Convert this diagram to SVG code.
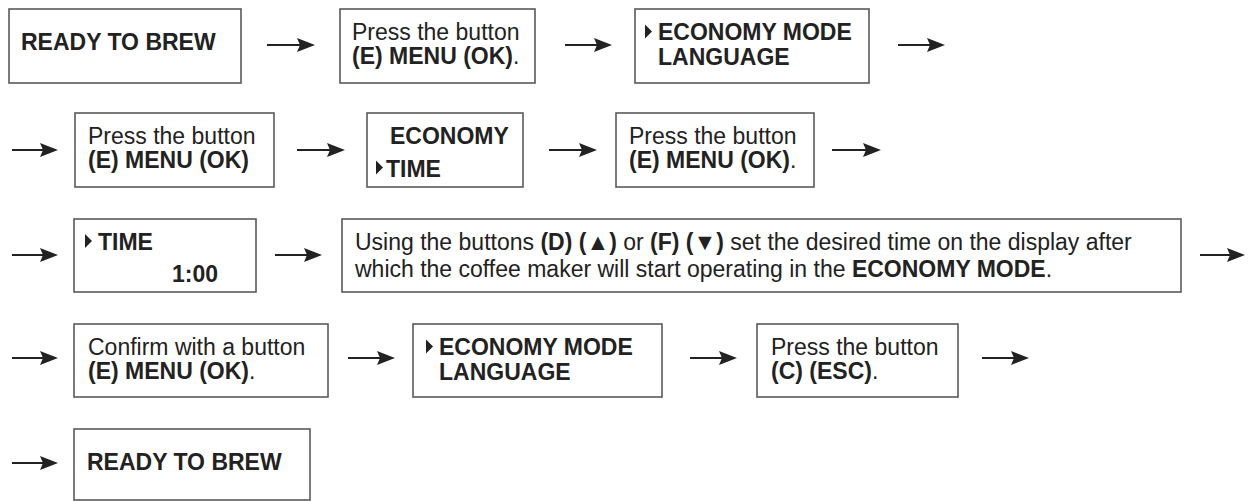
<svg xmlns="http://www.w3.org/2000/svg" width="1251" height="501" viewBox="0 0 1251 501">
<defs>
<style>
.box{fill:#fff;stroke:#5a5a5a;stroke-width:1.6}
.t{font-family:"Liberation Sans",Arial,sans-serif;font-size:23px;fill:#222}
.b{font-weight:bold}
.n{font-weight:normal}
.tri{fill:#222}
.conn line{stroke:#222;stroke-width:2;marker-end:url(#ah)}
</style>
<marker id="ah" markerWidth="18" markerHeight="16" refX="13" refY="8" orient="auto" markerUnits="userSpaceOnUse">
<path d="M0,1 L18,8 L0,15 L3,8 Z" fill="#222"/>
</marker>
</defs>
<rect width="1251" height="501" fill="#fff"/>

<g id="connectors" class="conn">
<line x1="267" y1="45" x2="310" y2="45"/>
<line x1="565" y1="45" x2="607" y2="45"/>
<line x1="898" y1="45" x2="940" y2="45"/>
<line x1="12" y1="150" x2="53" y2="150"/>
<line x1="297" y1="150" x2="340" y2="150"/>
<line x1="549" y1="150" x2="592" y2="150"/>
<line x1="832" y1="150" x2="876" y2="150"/>
<line x1="12" y1="255" x2="53" y2="255"/>
<line x1="275" y1="255" x2="317" y2="255"/>
<line x1="1200" y1="255" x2="1240" y2="255"/>
<line x1="12" y1="358" x2="53" y2="358"/>
<line x1="348" y1="358" x2="390" y2="358"/>
<line x1="690" y1="358" x2="732" y2="358"/>
<line x1="982" y1="358" x2="1024" y2="358"/>
<line x1="12" y1="463" x2="53" y2="463"/>
</g>

<g id="n1">
<rect class="box" x="9" y="9" width="232" height="74"/>
<text class="t b" x="21" y="50">READY TO BREW</text>
</g>
<g id="n2">
<rect class="box" x="340" y="9" width="195" height="74"/>
<text class="t" x="352" y="40">Press the button</text>
<text class="t b" x="352" y="64">(E) MENU (OK)<tspan class="n">.</tspan></text>
</g>
<g id="n3">
<rect class="box" x="635" y="9" width="234" height="74"/>
<polygon class="tri" points="645,24.5 652,31.5 645,38.5"/>
<text class="t b" x="658" y="40">ECONOMY MODE</text>
<text class="t b" x="658" y="65">LANGUAGE</text>
</g>

<g id="n4">
<rect class="box" x="75" y="113" width="199" height="74"/>
<text class="t" x="88" y="144">Press the button</text>
<text class="t b" x="88" y="168">(E) MENU (OK)</text>
</g>
<g id="n5">
<rect class="box" x="367" y="113" width="156" height="74"/>
<text class="t b" x="390" y="144">ECONOMY</text>
<polygon class="tri" points="376,160.5 383,167.5 376,174.5"/>
<text class="t b" x="386" y="177">TIME</text>
</g>
<g id="n6">
<rect class="box" x="616" y="113" width="198" height="74"/>
<text class="t" x="629" y="144">Press the button</text>
<text class="t b" x="629" y="168">(E) MENU (OK)<tspan class="n">.</tspan></text>
</g>

<g id="n7">
<rect class="box" x="74" y="219" width="182" height="73"/>
<polygon class="tri" points="85,234 92,241 85,248"/>
<text class="t b" x="98" y="250">TIME</text>
<text class="t b" x="218" y="282" text-anchor="end">1:00</text>
</g>
<g id="n8">
<rect class="box" x="342" y="219" width="839" height="73"/>
<text class="t" x="355" y="250">Using the buttons <tspan class="b">(D)</tspan> <tspan class="b">(▲)</tspan> or <tspan class="b">(F)</tspan> <tspan class="b">(▼)</tspan> set the desired time on the display after</text>
<text class="t" x="355" y="277">which the coffee maker will start operating in the <tspan class="b">ECONOMY MODE</tspan>.</text>
</g>

<g id="n9">
<rect class="box" x="74" y="324" width="254" height="73"/>
<text class="t" x="88" y="355">Confirm with a button</text>
<text class="t b" x="88" y="379">(E) MENU (OK)<tspan class="n">.</tspan></text>
</g>
<g id="n10">
<rect class="box" x="413" y="324" width="249" height="73"/>
<polygon class="tri" points="426,339.5 433,346.5 426,353.5"/>
<text class="t b" x="439" y="355">ECONOMY MODE</text>
<text class="t b" x="439" y="380">LANGUAGE</text>
</g>
<g id="n11">
<rect class="box" x="757" y="324" width="201" height="73"/>
<text class="t" x="771" y="355">Press the button</text>
<text class="t b" x="771" y="379">(C) (ESC)<tspan class="n">.</tspan></text>
</g>

<g id="n12">
<rect class="box" x="74" y="429" width="236" height="71"/>
<text class="t b" x="87" y="470">READY TO BREW</text>
</g>
</svg>
